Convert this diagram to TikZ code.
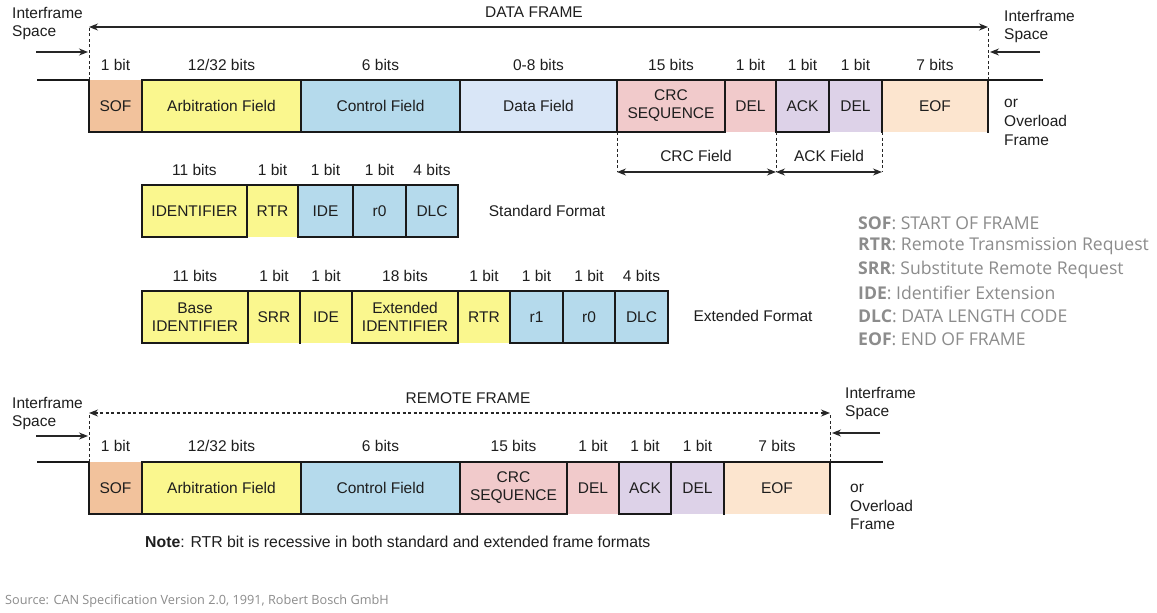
\documentclass[tikz,border=0pt]{standalone}
\usepackage{fontspec}
\setmainfont{Liberation Sans}
\newfontfamily\legfont{Open Sans}
\usetikzlibrary{arrows.meta}
\definecolor{csof}{HTML}{F2C29C}
\definecolor{carb}{HTML}{FAF78E}
\definecolor{cctl}{HTML}{B5DAEC}
\definecolor{cdat}{HTML}{D9E6F7}
\definecolor{ccrc}{HTML}{F1CACB}
\definecolor{cack}{HTML}{DDD2E8}
\definecolor{ceof}{HTML}{FCE5CF}
\definecolor{legc}{HTML}{8C8C8C}
\definecolor{txt}{HTML}{1E1E1E}
\newcommand{\cfield}[7]{\node[fld, fill=#6, minimum width={#3pt-#2pt}, minimum height={#5pt-#4pt}] (#1) at (#2,#4) {#7};}
\begin{document}
\begin{tikzpicture}[x=1pt,y=-1pt,
  fld/.style={anchor=north west, inner sep=0pt, outer sep=0pt, align=center, text=txt, font=\fontsize{15.5}{18}\selectfont},
  bits/.style={inner sep=0pt, text=txt, font=\fontsize{15.5}{18}\selectfont, text height=11pt, text depth=3pt},
  lbl/.style={inner sep=0pt, text=txt, font=\fontsize{15.5}{18}\selectfont, align=left},
  wave/.style={line width=2.4pt, line cap=rect, draw=black!90},
  dsh/.style={line width=1pt, dash pattern=on 3pt off 2.5pt, draw=black!85},
  arr/.style={line width=1.2pt, draw=black!85, {Stealth[length=9pt,width=7pt]}-{Stealth[length=9pt,width=7pt]}},
  sarr/.style={line width=1.2pt, draw=black!85, -{Stealth[length=9pt,width=7pt]}},
  legtxt/.style={inner sep=0pt, anchor=west, text=legc, font=\legfont\fontsize{17.6}{20}\selectfont}
]
\useasboundingbox (0,0) rectangle (1157,613);
\fill[white] (0,0) rectangle (1157,613);

% ================= DATA FRAME =================
\cfield{sof}{89}{142}{80}{132}{csof}{SOF}
\cfield{arb}{142}{301}{80}{132}{carb}{Arbitration Field}
\cfield{ctl}{301}{460}{80}{132}{cctl}{Control Field}
\cfield{dat}{460}{617}{80}{132}{cdat}{Data Field}
\cfield{crc}{617}{725}{80}{132}{ccrc}{CRC\\SEQUENCE}
\cfield{cdel}{725}{776}{80}{132}{ccrc}{DEL}
\cfield{ack}{776}{829}{80}{132}{cack}{ACK}
\cfield{adel}{829}{882}{80}{132}{cack}{DEL}
\cfield{eof}{882}{988}{80}{132}{ceof}{EOF}
\coordinate (dL) at (38,80);
\coordinate (dR) at (1042,80);
\draw[wave] (dL) -- (sof.north west) -- (sof.south west) -- (crc.south east);
\draw[wave] (arb.north west) -- (dR);
\draw[wave] (ack.south west) -- (ack.south east);
\foreach \n in {arb,ctl,dat,crc,cdel,ack,adel,eof} \draw[wave] (\n.north west) -- (\n.south west);
\draw[wave] (eof.north east) -- (eof.south east);

\foreach \n/\t in {sof/1 bit, arb/12\slash 32 bits, ctl/6 bits, dat/0-8 bits, crc/15 bits, cdel/1 bit, ack/1 bit, adel/1 bit, eof/7 bits}
  \node[bits] (b\n) at ([yshift=14pt]\n.north) {\t};

\coordinate (tl) at (89,27);
\coordinate (tr) at (988,27);
\draw[dsh] (sof.north west) -- (tl);
\draw[dsh] (eof.north east) -- (tr);
\draw[arr] (tl) -- (tr);
\node[bits] (dfl) at (534,13) {DATA FRAME};

\node[lbl, anchor=west] (ifl) at (12,23) {Interframe\\Space};
\coordinate (ifla) at (36,52);
\coordinate (iflb) at (88,52);
\draw[sarr] (ifla) -- (iflb);
\node[lbl, anchor=west] (ifr) at (1004,26) {Interframe\\Space};
\coordinate (ifra) at (1040,52);
\coordinate (ifrb) at (990,52);
\draw[sarr] (ifra) -- (ifrb);
\node[lbl, anchor=west, font=\fontsize{15.5}{19}\selectfont] (ovl) at (1004,122) {or\\Overload\\Frame};

\coordinate (cf1) at (617,172);
\coordinate (cf2) at (776,172);
\coordinate (cf3) at (882,172);
\draw[dsh] (crc.south west) -- (cf1);
\draw[dsh] (ack.south west) -- (cf2);
\draw[dsh] (adel.south east) -- (cf3);
\draw[arr] (cf1) -- (cf2);
\draw[arr] (cf2) -- (cf3);
\node[bits] (crcf) at (696,157) {CRC Field};
\node[bits] (ackf) at (829,157) {ACK Field};

% ================= STANDARD FORMAT =================
\cfield{sid}{142}{247}{185}{237}{carb}{IDENTIFIER}
\cfield{srtr}{247}{298}{185}{237}{carb}{RTR}
\cfield{side}{298}{353}{185}{237}{cctl}{IDE}
\cfield{sr0}{353}{406}{185}{237}{cctl}{r0}
\cfield{sdlc}{406}{458}{185}{237}{cctl}{DLC}
\draw[wave] (sid.north west) -- (sdlc.north east) -- (sdlc.south east) -- (side.south west);
\draw[wave] (sid.north west) -- (sid.south west) -- (sid.south east);
\foreach \n in {srtr,side,sr0,sdlc} \draw[wave] (\n.north west) -- (\n.south west);
\foreach \n/\t in {sid/11 bits, srtr/1 bit, side/1 bit, sr0/1 bit, sdlc/4 bits}
  \node[bits] (b\n) at ([yshift=14pt]\n.north) {\t};
\node[bits] (stdf) at (547,212) {Standard Format};

% ================= EXTENDED FORMAT =================
\cfield{eid}{142}{248}{291}{343}{carb}{Base\\IDENTIFIER}
\cfield{esrr}{248}{300}{291}{343}{carb}{SRR}
\cfield{eide}{300}{352}{291}{343}{carb}{IDE}
\cfield{eext}{352}{458}{291}{343}{carb}{Extended\\IDENTIFIER}
\cfield{ertr}{458}{510}{291}{343}{carb}{RTR}
\cfield{er1}{510}{563}{291}{343}{cctl}{r1}
\cfield{er0}{563}{615}{291}{343}{cctl}{r0}
\cfield{edlc}{615}{668}{291}{343}{cctl}{DLC}
\draw[wave] (eid.north west) -- (edlc.north east) -- (edlc.south east) -- (er1.south west);
\draw[wave] (eid.north west) -- (eid.south west) -- (eid.south east);
\draw[wave] (eext.south west) -- (eext.south east);
\foreach \n in {esrr,eide,eext,ertr,er1,er0,edlc} \draw[wave] (\n.north west) -- (\n.south west);
\foreach \n/\t in {eid/11 bits, esrr/1 bit, eide/1 bit, eext/18 bits, ertr/1 bit, er1/1 bit, er0/1 bit, edlc/4 bits}
  \node[bits] (b\n) at ([yshift=14pt]\n.north) {\t};
\node[bits] (extf) at (753,317) {Extended Format};

% ================= LEGEND =================
\node[legtxt] (lg1) at (858,223) {\textbf{SOF}: START OF FRAME};
\node[legtxt] (lg2) at (858,246) {\textbf{RTR}: Remote Transmission Request};
\node[legtxt] (lg3) at (858,270) {\textbf{SRR}: Substitute Remote Request};
\node[legtxt] (lg4) at (858,293) {\textbf{IDE}: Identifier Extension};
\node[legtxt] (lg5) at (858,316) {\textbf{DLC}: DATA LENGTH CODE};
\node[legtxt] (lg6) at (858,339) {\textbf{EOF}: END OF FRAME};

% ================= REMOTE FRAME =================
\cfield{rsof}{89}{142}{462}{514}{csof}{SOF}
\cfield{rarb}{142}{301}{462}{514}{carb}{Arbitration Field}
\cfield{rctl}{301}{460}{462}{514}{cctl}{Control Field}
\cfield{rcrc}{460}{567}{462}{514}{ccrc}{CRC\\SEQUENCE}
\cfield{rcdel}{567}{619}{462}{514}{ccrc}{DEL}
\cfield{rack}{619}{671}{462}{514}{cack}{ACK}
\cfield{radel}{671}{724}{462}{514}{cack}{DEL}
\cfield{reof}{724}{830}{462}{514}{ceof}{EOF}
\coordinate (rL) at (38,462);
\coordinate (rR) at (882,462);
\draw[wave] (rL) -- (rsof.north west) -- (rsof.south west) -- (rcrc.south east);
\draw[wave] (rarb.north west) -- (rR);
\draw[wave] (rack.south west) -- (rack.south east);
\foreach \n in {rarb,rctl,rcrc,rcdel,rack,radel,reof} \draw[wave] (\n.north west) -- (\n.south west);
\draw[wave] (reof.north east) -- (reof.south east);
\foreach \n/\t in {rsof/1 bit, rarb/12\slash 32 bits, rctl/6 bits, rcrc/15 bits, rcdel/1 bit, rack/1 bit, radel/1 bit, reof/7 bits}
  \node[bits] (b\n) at ([yshift=15pt]\n.north) {\t};

\coordinate (rtl) at (89,413);
\coordinate (rtr) at (830,413);
\draw[dsh] (rsof.north west) -- (rtl);
\draw[dsh] (reof.north east) -- (rtr);
\draw[arr, dash pattern=on 3pt off 2.5pt] (rtl) -- (rtr);
\node[bits] (rfl) at (468,399) {REMOTE FRAME};

\node[lbl, anchor=west] (rifl) at (12,413) {Interframe\\Space};
\coordinate (rifla) at (36,436);
\coordinate (riflb) at (88,436);
\draw[sarr] (rifla) -- (riflb);
\node[lbl, anchor=west] (rifr) at (845,403) {Interframe\\Space};
\coordinate (rifra) at (880,433);
\coordinate (rifrb) at (832,433);
\draw[sarr] (rifra) -- (rifrb);
\node[lbl, anchor=west, font=\fontsize{15.5}{18.5}\selectfont] (rovl) at (850,507) {or\\Overload\\Frame};

% ================= NOTES =================
\node[inner sep=0pt, anchor=west, text=txt, font=\fontsize{15.8}{18}\selectfont] (note) at (145,542) {\textbf{Note}: RTR bit is recessive in both standard and extended frame formats};
\node[inner sep=0pt, anchor=west, text=legc, font=\legfont\fontsize{12.7}{15}\selectfont] (src) at (5,601) {Source: CAN Specification Version 2.0, 1991, Robert Bosch GmbH};
\end{tikzpicture}
\end{document}
